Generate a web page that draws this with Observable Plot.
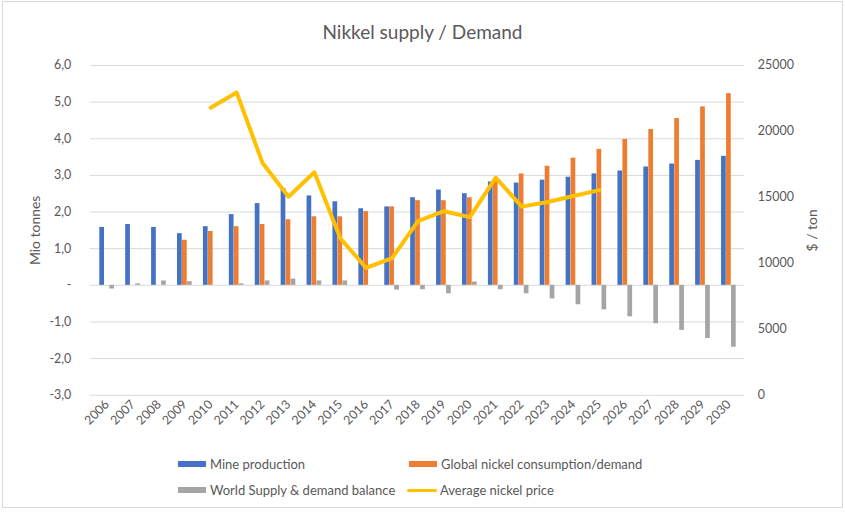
<!DOCTYPE html>
<html>
<head>
<meta charset="utf-8">
<script src="https://cdn.jsdelivr.net/npm/d3@7"></script>
<script src="https://cdn.jsdelivr.net/npm/@observablehq/plot@0.6"></script>
<style>
  html, body { margin: 0; padding: 0; background: #fff; }
  #chart {
    position: relative; width: 841px; height: 507px; margin: 1px 0 0 2px;
    border: 1px solid #D9D9D9; box-sizing: border-box; overflow: hidden;
    font-family: Lato, "Liberation Sans", sans-serif; color: #595959;
  }
  #title {
    position: absolute; left: 0; top: 0; width: 100%; height: 50px;
    text-align: center; font-size: 19px; line-height: 60px;
  }
  #plot { position: absolute; left: -3px; top: 48px; }
  #legend { position: absolute; left: 0; top: 449px; width: 100%; height: 58px; font-size: 13px; }
  .item { position: absolute; display: flex; align-items: center; height: 16px; }
  .sw { width: 28px; height: 6px; margin-right: 4px; }
  .ln { width: 30px; height: 3px; margin-right: 3px; border-radius: 2px; }
</style>
</head>
<body>
<div id="chart">
  <div id="title">Nikkel supply / Demand</div>
  <div id="plot"></div>
  <div id="legend"></div>
</div>
<script>
// Years on the category axis
const years = ["2006","2007","2008","2009","2010","2011","2012","2013","2014","2015","2016","2017","2018",
               "2019","2020","2021","2022","2023","2024","2025","2026","2027","2028","2029","2030"];

// Million tonnes
const mineProduction = [1.58,1.66,1.58,1.41,1.60,1.93,2.23,2.64,2.44,2.28,2.09,2.14,2.39,
                        2.60,2.50,2.82,2.79,2.87,2.95,3.04,3.12,3.23,3.31,3.41,3.52];
const consumption = [null,null,null,1.23,1.47,1.60,1.66,1.79,1.87,1.87,2.01,2.14,2.31,
                     2.31,2.39,2.86,3.04,3.25,3.47,3.71,3.98,4.25,4.55,4.87,5.23];
const balance = [-0.10,0.04,0.12,0.10,0,0.04,0.12,0.17,0.12,0.12,0,-0.13,-0.12,
                 -0.23,0.09,-0.12,-0.23,-0.37,-0.53,-0.67,-0.86,-1.05,-1.23,-1.45,-1.69];

// Average nickel price, $ / ton
const price = [null,null,null,null,21800,22950,17600,15050,16900,11900,9650,10400,13200,
               13950,13500,16500,14300,14650,15100,15550,null,null,null,null,null];

// Axis ticks
const tonneTicks = [-3,-2,-1,0,1,2,3,4,5,6];
const priceTicks = [0,5000,10000,15000,20000,25000];

const series = [
  {name: "Mine production", color: "#4472C4"},
  {name: "Global nickel consumption/demand", color: "#ED7D31"},
  {name: "World Supply & demand balance", color: "#A5A5A5"},
  {name: "Average nickel price", color: "#FFC000"}
];

const rows = years.map((year, i) => ({
  year, mine: mineProduction[i], demand: consumption[i], balance: balance[i], price: price[i]
}));

// The price shares the plot with the tonnes: 0..25000 $/t spans -3..6 Mt
const Y0 = -3, Y1 = 6, PMAX = 25000;
const priceToY = p => p / PMAX * (Y1 - Y0) + Y0;
const yToPrice = y => String(Math.round((y - Y0) / (Y1 - Y0) * PMAX));

const W = 845, H = 402, ML = 90, MR = 98, MT = 15, MB = 56;
const bw = (W - ML - MR) / years.length;
const barW = 5;
const slot = k => ({ // k = -1, 0, 1 : left, middle, right bar of a group
  insetLeft: bw / 2 - barW * 1.5 + (k + 1) * barW,
  insetRight: bw / 2 - barW * 1.5 + (1 - k) * barW
});

const fmtTonnes = v => v === 0 ? "-" : v.toFixed(1).replace(".", ",");

const chart = Plot.plot({
  width: W, height: H,
  marginLeft: ML, marginRight: MR, marginTop: MT, marginBottom: MB,
  style: {fontFamily: "Lato, 'Liberation Sans', sans-serif", fontSize: "12.5px", color: "#595959", background: "transparent"},
  x: {type: "band", domain: years, padding: 0},
  y: {domain: [Y0, Y1]},
  marks: [
    Plot.ruleY(tonneTicks, {stroke: "#D9D9D9", strokeWidth: 1}),
    Plot.axisY(tonneTicks, {
      anchor: "left", tickSize: 0, tickPadding: 19, tickFormat: fmtTonnes,
      label: "Mio tonnes", labelAnchor: "center", labelOffset: 60, labelArrow: "none"
    }),
    Plot.axisY(priceTicks.map(priceToY), {
      anchor: "right", tickSize: 0, tickPadding: 13, tickFormat: yToPrice,
      label: "$ / ton", labelAnchor: "center", labelOffset: 72, labelArrow: "none"
    }),
    Plot.axisX({tickSize: 0, tickRotate: -45, tickPadding: 7, label: null}),
    Plot.barY(rows, {x: "year", y: "mine", fill: series[0].color, ...slot(-1)}),
    Plot.barY(rows.filter(d => d.demand != null), {x: "year", y: "demand", fill: series[1].color, ...slot(0)}),
    Plot.barY(rows.filter(d => d.balance !== 0), {x: "year", y: "balance", fill: series[2].color, ...slot(1)}),
    Plot.line(rows.filter(d => d.price != null), {
      x: "year", y: d => priceToY(d.price), stroke: series[3].color,
      strokeWidth: 4, strokeLinejoin: "round", strokeLinecap: "round"
    })
  ]
});
chart.querySelectorAll("g[aria-label='y-axis label'] text, g[aria-label='y-axis label']").forEach(el => el.setAttribute("font-size", "14"));
document.getElementById("plot").appendChild(chart);

// Legend below the plot
const legend = document.getElementById("legend");
const positions = [[175, 5], [406, 5], [175, 31], [404, 31]];
series.forEach((s, i) => {
  const item = document.createElement("div");
  item.className = "item";
  item.style.left = positions[i][0] + "px";
  item.style.top = positions[i][1] + "px";
  const mark = document.createElement("span");
  mark.className = i === 3 ? "ln" : "sw";
  mark.style.background = s.color;
  const label = document.createElement("span");
  label.textContent = s.name;
  item.appendChild(mark);
  item.appendChild(label);
  legend.appendChild(item);
});
</script>
</body>
</html>
